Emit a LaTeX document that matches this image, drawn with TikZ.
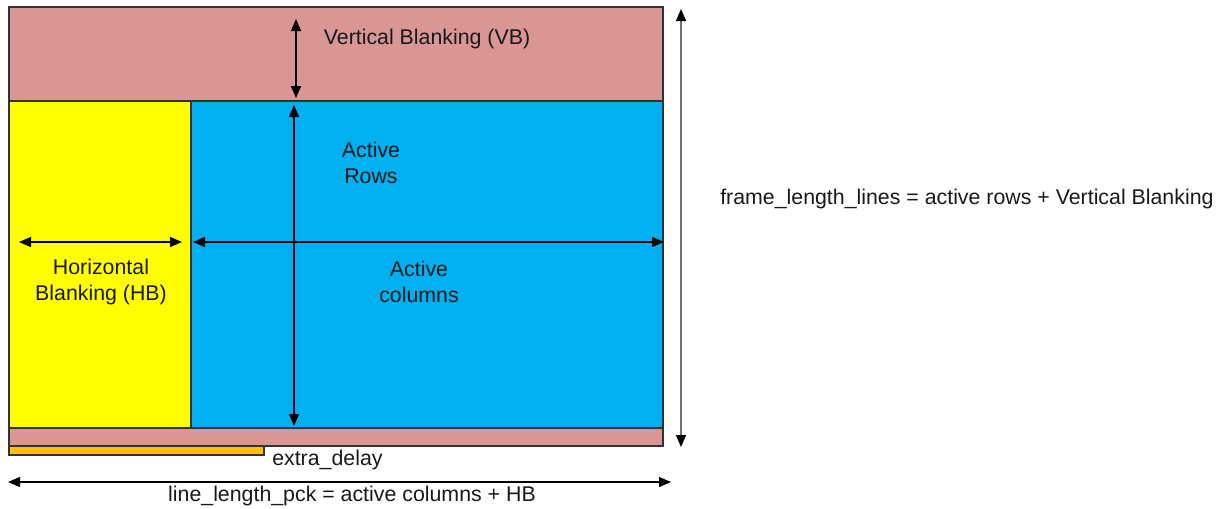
\documentclass[tikz,border=0pt]{standalone}
\usepackage{fontspec}
\setmainfont{Liberation Sans}
\usetikzlibrary{arrows.meta}

\definecolor{vbpink}{RGB}{217,150,148}
\definecolor{actblue}{RGB}{0,176,240}
\definecolor{hbyellow}{RGB}{255,255,0}
\definecolor{delayorange}{RGB}{255,192,0}
\definecolor{edgegrey}{RGB}{50,50,50}

\begin{document}
\begin{tikzpicture}[x=0.75pt,y=0.75pt,yscale=-1,xscale=1,
  band/.style={draw=edgegrey, line width=0.8pt},
  dimarrow/.style={line width=1pt, {Triangle[length=9pt,width=7.5pt,color=black]}-{Triangle[length=9pt,width=7.5pt,color=black]}},
  lbl/.style={font=\fontsize{16}{19}\selectfont, text=black!90, align=center, inner sep=0pt}]
\useasboundingbox (0,0) rectangle (1218,508);

%Shape: Rectangle [id:vb_band]
\draw [band, fill=vbpink] (9,7) rectangle (663,101);
%Shape: Rectangle [id:hb_area]
\draw [band, fill=hbyellow] (9,101) rectangle (191,428);
%Shape: Rectangle [id:active_area]
\draw [band, fill=actblue] (191,101) rectangle (663,428);
%Shape: Rectangle [id:vb_strip]
\draw [band, fill=vbpink] (9,428) rectangle (663,446);
%Shape: Rectangle [id:delay_bar]
\draw [band, fill=delayorange] (9,446) rectangle (264,455);

% Arrow ends
\coordinate (vbTop) at (296,19);
\coordinate (vbBot) at (296,98);
\coordinate (rowTop) at (294,105);
\coordinate (rowBot) at (294,426);
\coordinate (hbL) at (19,242);
\coordinate (hbR) at (182,242);
\coordinate (colL) at (193,242);
\coordinate (colR) at (664,242);
\coordinate (frameTop) at (681,9);
\coordinate (frameBot) at (681,447);
\coordinate (lineL) at (8,482);
\coordinate (lineR) at (671,482);

%Straight Lines [id:dimensions]
\draw [dimarrow] (vbTop) -- (vbBot);
\draw [dimarrow] (rowTop) -- (rowBot);
\draw [dimarrow] (hbL) -- (hbR);
\draw [dimarrow] (colL) -- (colR);
\draw [dimarrow, draw=black!55] (frameTop) -- (frameBot);
\draw [dimarrow] (lineL) -- (lineR);

% Text Node
\node [lbl] (vbText) at (427,39) {Vertical Blanking (VB)};
% Text Node
\node [lbl] (rowsText) at (371,163) {Active\\Rows};
% Text Node
\node [lbl] (hbText) at (101,282) {Horizontal\\Blanking (HB)};
% Text Node
\node [lbl] (colsText) at (419,282) {Active\\columns};
% Text Node
\node [lbl, anchor=west] (delayText) at (272,460) {extra\_delay};
% Text Node
\node [lbl] (lineText) at (352,496) {line\_length\_pck = active columns + HB};
% Text Node
\node [lbl, anchor=west] (frameText) at (720,199) {frame\_length\_lines = active rows + Vertical Blanking};

\end{tikzpicture}
\end{document}
